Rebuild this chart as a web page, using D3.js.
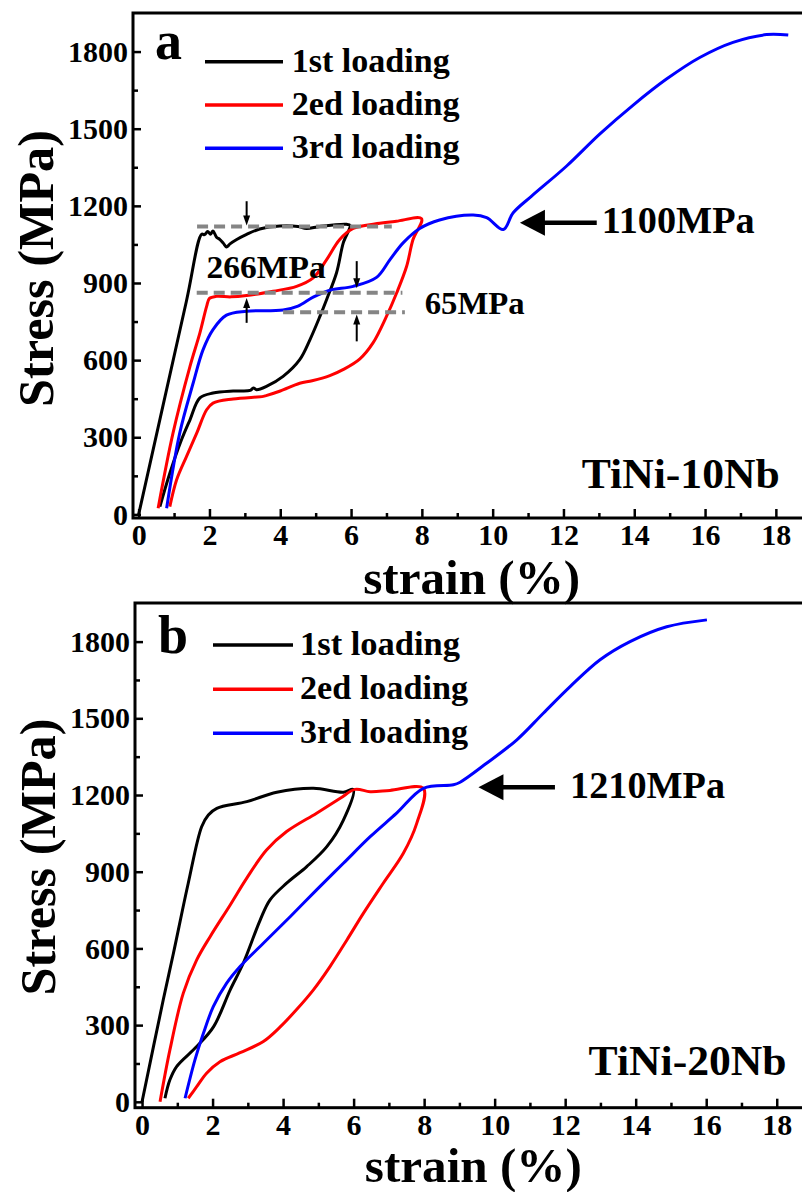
<!DOCTYPE html>
<html lang="en">
<head>
<meta charset="UTF-8">
<title>TiNi-Nb cyclic loading</title>
<script src="https://d3js.org/d3.v7.min.js"></script>
<style>
  body { margin: 0; background: #fff; }
  svg { display: block; }
  svg text { font-family: "Liberation Serif", "Times New Roman", Times, serif; font-weight: bold; fill: #000; }
  .axis path { display: none; }
  .axis line { stroke: #000; stroke-width: 2.5; }
  .axis text { font-size: 30px; }
</style>
</head>
<body>
<svg width="802" height="1192"></svg>
<script>
const strainTicks = [0, 2, 4, 6, 8, 10, 12, 14, 16, 18];
const strainMinor = [1, 3, 5, 7, 9, 11, 13, 15, 17];
const stressTicks = [0, 300, 600, 900, 1200, 1500, 1800];
const stressMinor = [150, 450, 750, 1050, 1350, 1650];
const seriesNames = ["1st loading", "2ed loading", "3rd loading"];
const seriesColors = ["#000000", "#ff0000", "#0000ff"];
const serif = "'Liberation Serif', 'Times New Roman', Times, serif";

// TiNi-10Nb  [strain %, stress MPa]
const a1st = [[0,0],[1.35,830],[1.78,1090],[1.86,1088],[1.95,1100],[2.03,1090],[2.1,1102],[2.2,1078],[2.29,1070],
  [2.39,1055],[2.48,1040],[2.58,1052],[2.77,1069],[3.05,1089],[3.42,1110],[3.99,1122],[4.5,1120],[4.74,1112],
  [5.12,1120],[5.87,1128],[5.97,1124],[5.78,1056],[5.59,940],[5.31,836],[5.12,770],[4.84,680],[4.55,602],
  [4.08,537],[3.61,498],[3.33,485],[3.24,492],[3.15,482],[2.67,480],[2.1,472],[1.73,453],[1.45,368],
  [1.21,290],[0.88,160],[0.6,30]];
const a2nd = [[0.55,24],[0.97,316],[1.45,576],[1.73,706],[1.92,809],[2.0,840],[2.2,848],[2.6,846],[3.05,851],
  [3.8,868],[4.46,887],[4.93,920],[5.31,991],[5.68,1069],[6.06,1112],[6.81,1132],[7.28,1140],[7.99,1150],
  [7.75,1069],[7.57,965],[7.29,862],[7.0,770],[6.62,667],[6.25,605],[5.8,565],[5.4,540],[4.9,520],[4.55,510],
  [4.0,480],[3.6,462],[3.52,459],[2.67,449],[2.1,433],[1.92,407],[1.64,316],[1.35,225],[1.07,134],[0.88,30]];
const a3rd = [[0.79,24],[1.16,316],[1.54,511],[1.82,641],[2.1,719],[2.48,775],[3.05,790],[4.08,795],[4.5,810],
  [4.93,845],[5.4,872],[6.06,887],[6.72,922],[7.1,991],[7.47,1056],[7.94,1112],[8.5,1145],[9.45,1164],
  [9.83,1154],[10.3,1108],[10.58,1173],[11.1,1238],[12.09,1355],[13.03,1480],[13.97,1592],[14.91,1693],
  [15.85,1777],[16.79,1836],[17.74,1866],[18.35,1864]];

// TiNi-20Nb
const b1st = [[0,0],[0.6,398],[0.89,581],[1.31,855],[1.69,1076],[1.88,1122],[2.12,1148],[2.97,1174],[3.82,1211],
  [4.86,1226],[5.71,1211],[5.99,1222],[5.71,1102],[5.24,998],[4.67,920],[4.1,855],[3.63,790],[3.35,711],
  [2.87,542],[2.5,438],[2.03,294],[1.55,216],[0.98,138],[0.79,86],[0.65,14]];
const b2nd = [[0.51,0],[0.79,203],[1.17,425],[1.55,555],[1.93,646],[2.5,770],[2.97,875],[3.53,985],[4.1,1057],
  [4.95,1129],[5.62,1187],[6.04,1222],[6.47,1213],[7.03,1218],[7.98,1226],[7.79,1089],[7.41,972],[6.84,855],
  [6.28,738],[5.81,633],[5.33,529],[4.86,438],[4.39,362],[3.91,292],[3.44,236],[2.78,192],[2.21,157],
  [1.83,112],[1.55,59],[1.31,14]];
const b3rd = [[1.22,14],[1.5,164],[1.74,268],[2.02,372],[2.4,464],[2.78,529],[3.44,620],[4.2,724],[4.95,829],
  [5.71,933],[6.47,1037],[7.22,1129],[7.98,1226],[8.83,1240],[9.02,1250],[9.77,1324],[10.63,1416],
  [11.38,1520],[12.14,1624],[12.99,1729],[13.84,1800],[14.88,1858],[16.02,1885]];

// annotations, data units
const aDashes = [[1.65, 7.15, 1120], [1.64, 7.45, 862], [4.08, 7.52, 786]];   // x0, x1, stress
const aMarkers = [[3.05, 1218, 1124], [3.05, 745, 842], [6.16, 985, 880], [6.16, 673, 777]]; // x, tail, tip
const aNotes = [["266MPa", 1.92, 920, 119, 32], ["65MPa", 8.08, 781, 100, 31]];
const aCritical = {label: "1100MPa", tip: [10.77, 1134], tail: 12.94, textX: 13.08, textY: 1095, len: 153};
const bCritical = {label: "1210MPa", tip: [9.54, 1230], tail: 11.71, textX: 12.14, textY: 1187, len: 155};

const panels = [
  {letter: "a", alloy: "TiNi-10Nb", alloyX: 18.11, alloyY: 102, left: 133, top: 13, bottom: 518,
   xDomain: [-0.16, 19], pxPerUnit: 35.4, yDomain: [-14, 1950], series: [a1st, a2nd, a3rd],
   dashes: aDashes, markers: aMarkers, notes: aNotes, critical: aCritical,
   legend: {lx: 72, lx2: 150, tx: 158.7, rows: [48.7, 92, 135.3], widths: [158, 168, 168], letter: [22, 46]},
   titleX: 471.7, titleY: 594, yTitleX: 53, yTitleY: 268.5},
  {letter: "b", alloy: "TiNi-20Nb", alloyX: 18.28, alloyY: 105, left: 135, top: 603, bottom: 1107.7,
   xDomain: [-0.2, 19.1], pxPerUnit: 35.26, yDomain: [-23, 1951], series: [b1st, b2nd, b3rd],
   dashes: [], markers: [], notes: [], critical: bCritical,
   legend: {lx: 78, lx2: 158, tx: 165, rows: [42, 86.3, 130.3], widths: [160, 168, 168], letter: [23, 50]},
   titleX: 473.3, titleY: 1182, yTitleX: 55, yTitleY: 857}
];

const svg = d3.select("svg");

panels.forEach(p => {
  const right = p.left + (p.xDomain[1] - p.xDomain[0]) * p.pxPerUnit;
  const x = d3.scaleLinear().domain(p.xDomain).range([p.left, right]);
  const y = d3.scaleLinear().domain(p.yDomain).range([p.bottom, p.top]);
  const g = svg.append("g");

  // ticks (inward)
  const fit = sel => {
    sel.attr("font-family", serif).attr("font-size", 30);
    sel.selectAll(".tick text")
      .attr("font-family", serif)
      .attr("textLength", d => String(d).length * 15)
      .attr("lengthAdjust", "spacingAndGlyphs");
  };
  g.append("g").attr("class", "axis").attr("transform", `translate(0,${p.bottom})`)
    .call(d3.axisBottom(x).tickValues(strainTicks).tickFormat(d3.format("d"))
      .tickSize(-9).tickSizeOuter(0).tickPadding(6))
    .call(fit);
  g.append("g").attr("class", "axis").attr("transform", `translate(0,${p.bottom})`)
    .call(d3.axisBottom(x).tickValues(strainMinor).tickSize(-5).tickSizeOuter(0).tickFormat(""));
  g.append("g").attr("class", "axis").attr("transform", `translate(${p.left},0)`)
    .call(d3.axisLeft(y).tickValues(stressTicks).tickFormat(d3.format("d"))
      .tickSize(-8).tickSizeOuter(0).tickPadding(5))
    .call(fit);
  g.append("g").attr("class", "axis").attr("transform", `translate(${p.left},0)`)
    .call(d3.axisLeft(y).tickValues(stressMinor).tickSize(-5).tickSizeOuter(0).tickFormat(""));

  g.append("rect")
    .attr("x", p.left).attr("y", p.top)
    .attr("width", right - p.left).attr("height", p.bottom - p.top)
    .attr("fill", "none").attr("stroke", "#000").attr("stroke-width", 3);

  // curves
  const line = d3.line().x(d => x(d[0])).y(d => y(d[1])).curve(d3.curveCatmullRom.alpha(0.5));
  p.series.forEach((s, i) => {
    g.append("path").datum(s)
      .attr("d", line)
      .attr("fill", "none")
      .attr("stroke", seriesColors[i])
      .attr("stroke-width", 3)
      .attr("stroke-linejoin", "round");
  });

  // dashed guide lines
  g.selectAll(".guide").data(p.dashes).enter().append("line")
    .attr("x1", d => x(d[0])).attr("x2", d => x(d[1]))
    .attr("y1", d => y(d[2])).attr("y2", d => y(d[2]))
    .attr("stroke", "#858585").attr("stroke-width", 4)
    .attr("stroke-dasharray", "11,6");

  // small vertical arrows
  p.markers.forEach(m => {
    const xm = x(m[0]), yt = y(m[1]), yh = y(m[2]);
    const dir = yh > yt ? 1 : -1;
    g.append("line").attr("x1", xm).attr("x2", xm).attr("y1", yt).attr("y2", yh - dir * 6)
      .attr("stroke", "#000").attr("stroke-width", 2);
    g.append("path")
      .attr("d", `M${xm},${yh}L${xm - 3.5},${yh - dir * 10}L${xm + 3.5},${yh - dir * 10}Z`)
      .attr("fill", "#000");
  });

  const txt = (sx, sy, size, s) => g.append("text").attr("x", sx).attr("y", sy)
    .attr("font-family", serif).attr("font-weight", "bold").attr("font-size", size).text(s);

  p.notes.forEach(n => {
    txt(x(n[1]), y(n[2]), n[4], n[0])
      .attr("textLength", n[3]).attr("lengthAdjust", "spacingAndGlyphs");
  });

  // critical stress arrow
  const c = p.critical;
  const tx = x(c.tip[0]), ty = y(c.tip[1]);
  g.append("line").attr("x1", tx + 20).attr("x2", x(c.tail)).attr("y1", ty).attr("y2", ty)
    .attr("stroke", "#000").attr("stroke-width", 4.5);
  g.append("path").attr("d", `M${tx},${ty}L${tx + 25},${ty - 13}L${tx + 25},${ty + 13}Z`).attr("fill", "#000");
  txt(x(c.textX), y(c.textY), 37, c.label)
    .attr("textLength", c.len).attr("lengthAdjust", "spacingAndGlyphs");

  // alloy label
  txt(x(p.alloyX), y(p.alloyY), 43, p.alloy)
    .attr("text-anchor", "end")
    .attr("textLength", 198).attr("lengthAdjust", "spacingAndGlyphs");

  // legend
  const L = p.legend;
  txt(p.left + L.letter[0], p.top + L.letter[1], 54, p.letter);
  seriesNames.forEach((name, i) => {
    g.append("line")
      .attr("x1", p.left + L.lx).attr("x2", p.left + L.lx2)
      .attr("y1", p.top + L.rows[i]).attr("y2", p.top + L.rows[i])
      .attr("stroke", seriesColors[i]).attr("stroke-width", 3.5);
    txt(p.left + L.tx, p.top + L.rows[i] + 10, 34, name)
      .attr("textLength", L.widths[i]).attr("lengthAdjust", "spacingAndGlyphs");
  });

  // axis titles
  txt(p.titleX, p.titleY, 49, "strain (%)")
    .attr("text-anchor", "middle")
    .attr("textLength", 217).attr("lengthAdjust", "spacingAndGlyphs");
  g.append("text")
    .attr("transform", `translate(${p.yTitleX},${p.yTitleY}) rotate(-90)`)
    .attr("text-anchor", "middle").attr("font-size", 50)
    .attr("font-family", serif).attr("font-weight", "bold")
    .attr("textLength", 277).attr("lengthAdjust", "spacingAndGlyphs")
    .text("Stress (MPa)");
});
</script>
</body>
</html>
